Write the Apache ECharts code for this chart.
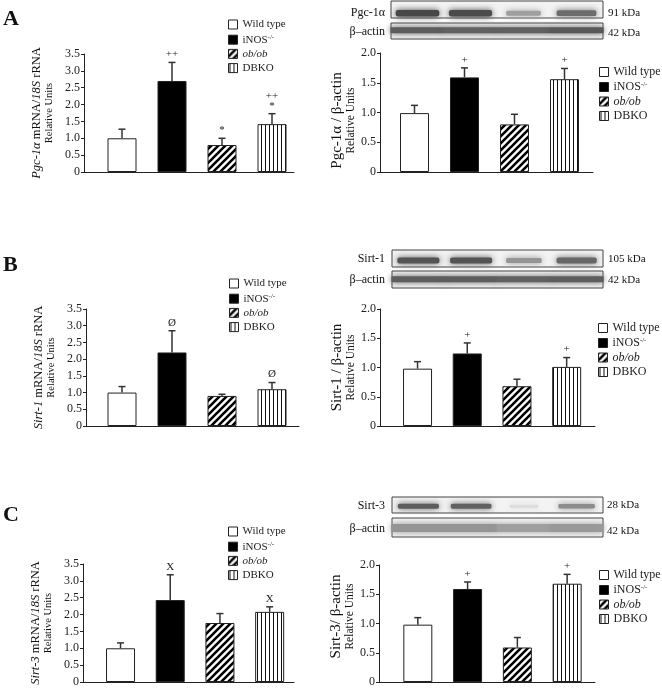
<!DOCTYPE html>
<html><head><meta charset="utf-8">
<script src="https://cdn.jsdelivr.net/npm/echarts@6/dist/echarts.min.js"></script>
<style>html,body{margin:0;padding:0;background:#fff}#c{width:662px;height:689px}</style>
</head><body><div id="c"></div>
<script>
// ---------- DATA ----------
const groups = ['Wild type', 'iNOS', 'ob/ob', 'DBKO'];

const pgcMrna      = [1.00, 2.70, 0.80, 1.42];
const pgcMrnaErr   = [0.27, 0.55, 0.20, 0.31];
const pgcMrnaSig   = ['', '++', '*', '++\n*'];
const pgcProt      = [0.99, 1.59, 0.80, 1.56];
const pgcProtErr   = [0.13, 0.16, 0.17, 0.18];
const pgcProtSig   = ['', '+', '', '+'];

const sirt1Mrna    = [1.00, 2.20, 0.90, 1.10];
const sirt1MrnaErr = [0.18, 0.65, 0.05, 0.20];
const sirt1MrnaSig = ['', 'Ø', '', 'Ø'];
const sirt1Prot    = [0.98, 1.24, 0.68, 1.01];
const sirt1ProtErr = [0.12, 0.18, 0.12, 0.16];
const sirt1ProtSig = ['', '+', '', '+'];

const sirt3Mrna    = [1.00, 2.43, 1.75, 2.08];
const sirt3MrnaErr = [0.16, 0.75, 0.28, 0.15];
const sirt3MrnaSig = ['', 'X', '', 'X'];
const sirt3Prot    = [0.98, 1.59, 0.59, 1.68];
const sirt3ProtErr = [0.12, 0.12, 0.17, 0.16];
const sirt3ProtSig = ['', '+', '', '+'];

const mrnaTicks = [0, 0.5, 1.0, 1.5, 2.0, 2.5, 3.0, 3.5];
const protTicks = [0, 0.5, 1.0, 1.5, 2.0];

// western blot band intensities per lane
const pgcBlot    = [0.92, 0.90, 0.45, 0.72];
const pgcActin   = [0.80, 0.78, 0.78, 0.82];
const sirt1Blot  = [0.85, 0.85, 0.50, 0.75];
const sirt1Actin = [0.80, 0.80, 0.78, 0.80];
const sirt3Blot  = [0.80, 0.78, 0.12, 0.55];
const sirt3Actin = [0.50, 0.50, 0.45, 0.48];

// ---------- STYLE ----------
const FONT = 'Liberation Serif, Times New Roman, serif';
function diagPattern() {
  const s = 7, c = document.createElement('canvas');
  c.width = s; c.height = s;
  const g = c.getContext('2d');
  g.fillStyle = '#fff'; g.fillRect(0, 0, s, s);
  g.strokeStyle = '#000'; g.lineWidth = 2.6;
  g.beginPath();
  g.moveTo(-1, s + 1); g.lineTo(s + 1, -1);
  g.moveTo(-1, 1); g.lineTo(1, -1);
  g.moveTo(s - 1, s + 1); g.lineTo(s + 1, s - 1);
  g.stroke();
  return c;
}
function vertPattern() {
  const c = document.createElement('canvas');
  c.width = 4; c.height = 4;
  const g = c.getContext('2d');
  g.fillStyle = '#fff'; g.fillRect(0, 0, 4, 4);
  g.fillStyle = '#111'; g.fillRect(1, 0, 1, 4);
  return c;
}
const fills = ['#ffffff', '#000000',
  { image: diagPattern(), repeat: 'repeat' },
  { image: vertPattern(), repeat: 'repeat' }];

const panels = [
  { grid: { left: 84, top: 54, width: 210, height: 118 }, xr: [0.24, 4.44], vals: pgcMrna, errs: pgcMrnaErr, sig: pgcMrnaSig, ticks: mrnaTicks,
    name: '{i|Pgc-1α} mRNA/{i|18S} rRNA\n{s|Relative Units}', big: false, pad: [0, 0, 0, 0], legend: { left: 228, top: 19 } },
  { grid: { left: 380, top: 53, width: 213, height: 119 }, xr: [0.31, 4.57], vals: pgcProt, errs: pgcProtErr, sig: pgcProtSig, ticks: protTicks,
    name: 'Pgc-1α / β-actin\n{s|Relative Units}', big: true, pad: [0, 16, 0, 0], legend: { left: 599, top: 66 } },
  { grid: { left: 86, top: 309, width: 213, height: 117 }, xr: [0.28, 4.54], vals: sirt1Mrna, errs: sirt1MrnaErr, sig: sirt1MrnaSig, ticks: mrnaTicks,
    name: '{i|Sirt-1} mRNA/{i|18S} rRNA\n{s|Relative Units}', big: false, pad: [0, 0, 0, 0], legend: { left: 229, top: 278 } },
  { grid: { left: 380, top: 309, width: 215, height: 117 }, xr: [0.245, 4.57], vals: sirt1Prot, errs: sirt1ProtErr, sig: sirt1ProtSig, ticks: protTicks,
    name: 'Sirt-1 / β-actin\n{s|Relative Units}', big: true, pad: [0, 0, 0, 0], legend: { left: 598, top: 322 } },
  { grid: { left: 83, top: 564, width: 211, height: 118 }, xr: [0.245, 4.49], vals: sirt3Mrna, errs: sirt3MrnaErr, sig: sirt3MrnaSig, ticks: mrnaTicks,
    name: '{i|Sirt-3} mRNA/{i|18S} rRNA\n{s|Relative Units}', big: false, pad: [0, 0, 0, 0], legend: { left: 228, top: 526 } },
  { grid: { left: 379, top: 565, width: 216, height: 117 }, xr: [0.22, 4.56], vals: sirt3Prot, errs: sirt3ProtErr, sig: sirt3ProtSig, ticks: protTicks,
    name: 'Sirt-3/ β-actin\n{s|Relative Units}', big: true, pad: [0, 0, 0, 14], legend: { left: 599, top: 569 } }
];

const blots = [
  { grid: { left: 391, top: 1, width: 212, height: 17 }, vals: pgcBlot, yc: 0.28, h: 6, spread: false },
  { grid: { left: 391, top: 23, width: 212, height: 16 }, vals: pgcActin, yc: 0.55, h: 6, spread: true },
  { grid: { left: 392, top: 250, width: 211, height: 17 }, vals: sirt1Blot, yc: 0.38, h: 6, spread: false },
  { grid: { left: 392, top: 271, width: 211, height: 17 }, vals: sirt1Actin, yc: 0.52, h: 6, spread: true },
  { grid: { left: 392, top: 497, width: 211, height: 16 }, vals: sirt3Blot, yc: 0.42, h: 5, spread: false },
  { grid: { left: 392, top: 518, width: 211, height: 19 }, vals: sirt3Actin, yc: 0.47, h: 8, spread: true }
];

const grid = [], xAxis = [], yAxis = [], series = [], legend = [];

panels.forEach((p, i) => {
  const fs = p.big ? 12 : 11;
  grid.push(Object.assign({ outerBoundsMode: 'none', containLabel: false }, p.grid));
  xAxis.push({ type: 'value', gridIndex: i, min: p.xr[0], max: p.xr[1],
    axisLine: { show: true, onZero: false, lineStyle: { color: '#222', width: 1 } },
    axisTick: { show: false }, axisLabel: { show: false }, splitLine: { show: false } });
  yAxis.push({ type: 'value', gridIndex: i, min: p.ticks[0], max: p.ticks[p.ticks.length - 1],
    interval: p.ticks[1] - p.ticks[0],
    axisLine: { show: true, onZero: false, lineStyle: { color: '#222', width: 1 } },
    axisTick: { show: true, length: 3, lineStyle: { color: '#222' } },
    axisLabel: { fontFamily: FONT, fontSize: 12, color: '#222', margin: 4,
      formatter: v => v === 0 ? '0' : v.toFixed(1) },
    splitLine: { show: false },
    name: p.name, nameLocation: 'middle', nameRotate: 90,
    nameGap: p.big ? 21 : 29,
    nameTextStyle: {
      fontFamily: FONT, fontSize: p.big ? 15 : 12.5, color: '#111', lineHeight: p.big ? 16 : 14,
      padding: p.pad,
      rich: {
        i: { fontFamily: FONT, fontStyle: 'italic', fontSize: 12.5, color: '#111', lineHeight: 14 },
        s: { fontFamily: FONT, fontSize: p.big ? 11.5 : 10.5, color: '#111', lineHeight: p.big ? 12 : 11 }
      }
    } });
  groups.forEach((g, j) => {
    series.push({ type: 'bar', name: g, xAxisIndex: i, yAxisIndex: i, barWidth: 29, barGap: '-100%',
      data: [[j + 1, p.vals[j]]], silent: true,
      itemStyle: { color: fills[j], borderColor: '#222', borderWidth: 1 } });
  });
  series.push({ type: 'custom', xAxisIndex: i, yAxisIndex: i, z: 5, silent: true,
    data: p.vals.map((v, j) => [j + 1, v, p.errs[j]]),
    renderItem: (params, api) => {
      const x = api.value(0), v = api.value(1), e = api.value(2);
      const p0 = api.coord([x, v]), p1 = api.coord([x, v + e]);
      const s = p.sig[params.dataIndex];
      const ch = [
        { type: 'line', shape: { x1: p0[0], y1: p0[1], x2: p1[0], y2: p1[1] }, style: { stroke: '#333', lineWidth: 1.5 } },
        { type: 'line', shape: { x1: p1[0] - 3.5, y1: p1[1], x2: p1[0] + 3.5, y2: p1[1] }, style: { stroke: '#333', lineWidth: 1.5 } }
      ];
      if (s) ch.push({ type: 'text', x: p1[0], y: p1[1] - 3,
        style: { text: s, textAlign: 'center', textVerticalAlign: 'bottom', fontFamily: FONT, fontSize: 11, fill: '#222', lineHeight: 10 } });
      return { type: 'group', children: ch };
    } });
  legend.push({ orient: 'vertical', left: p.legend.left, top: p.legend.top, padding: 0, data: groups, selectedMode: false,
    icon: 'rect', itemWidth: 9, itemHeight: 9, itemGap: p.big ? 2.5 : 3.2,
    itemStyle: { borderColor: '#222', borderWidth: 1 },
    textStyle: { fontFamily: FONT, fontSize: fs, color: '#222', padding: [0, 0, 0, 0],
      rich: { sup: { fontFamily: FONT, fontSize: 7, color: '#222', padding: [0, 0, 6, 0] },
              it: { fontFamily: FONT, fontStyle: 'italic', fontSize: fs, color: '#222' } } },
    formatter: n => n === 'iNOS' ? 'iNOS{sup|-/-}' : (n === 'ob/ob' ? '{it|ob/ob}' : n) });
});

blots.forEach((b, k) => {
  const gi = panels.length + k;
  grid.push(Object.assign({ outerBoundsMode: 'none', show: true, borderColor: '#444', borderWidth: 1, backgroundColor: '#f3f3f3' }, b.grid));
  xAxis.push({ type: 'value', gridIndex: gi, min: 0, max: 4, show: false });
  yAxis.push({ type: 'value', gridIndex: gi, min: 0, max: 1, show: false });
  series.push({ type: 'custom', xAxisIndex: gi, yAxisIndex: gi, silent: true,
    data: b.vals.map((v, j) => [j + 0.5, v]),
    renderItem: (params, api) => {
      const v = api.value(1);
      const c = api.coord([api.value(0), b.yc]);
      const lane = api.size([1, 0])[0];
      const w = b.spread ? lane * 1.02 : lane * (0.5 + 0.35 * v);
      const h = b.h * (b.spread ? 1 : (0.6 + 0.5 * v));
      const gv = Math.round(243 - v * 0.9 * (243 - 35));
      const col = 'rgb(' + gv + ',' + gv + ',' + gv + ')';
      return { type: 'rect', shape: { x: c[0] - w / 2, y: c[1] - h / 2, width: w, height: h, r: b.spread ? 1 : h / 3 },
        style: { fill: col, shadowBlur: 6, shadowColor: col } };
    } });
});

function txt(x, y, t, opt) {
  return Object.assign({ type: 'text', x: x, y: y, silent: true,
    style: Object.assign({ text: t, fontFamily: FONT, fontSize: 12, fill: '#111', textVerticalAlign: 'middle' }, opt || {}) });
}
const graphic = [
  txt(3, 19, 'A', { fontSize: 22, fontWeight: 'bold' }),
  txt(3, 265, 'B', { fontSize: 22, fontWeight: 'bold' }),
  txt(3, 515, 'C', { fontSize: 22, fontWeight: 'bold' }),
  txt(385, 13, 'Pgc-1α', { textAlign: 'right' }),
  txt(385, 32, 'β–actin', { textAlign: 'right' }),
  txt(608, 13, '91 kDa', { fontSize: 11 }),
  txt(608, 33, '42 kDa', { fontSize: 11 }),
  txt(385, 259, 'Sirt-1', { textAlign: 'right' }),
  txt(385, 280, 'β–actin', { textAlign: 'right' }),
  txt(608, 259, '105 kDa', { fontSize: 11 }),
  txt(608, 280, '42 kDa', { fontSize: 11 }),
  txt(385, 506, 'Sirt-3', { textAlign: 'right' }),
  txt(385, 529, 'β–actin', { textAlign: 'right' }),
  txt(607, 505, '28 kDa', { fontSize: 11 }),
  txt(607, 531, '42 kDa', { fontSize: 11 })
];

const chart = echarts.init(document.getElementById('c'), null, { renderer: 'canvas' });
chart.setOption({ animation: false, backgroundColor: '#fff', grid, xAxis, yAxis, series, legend, graphic });
</script>
</body></html>
